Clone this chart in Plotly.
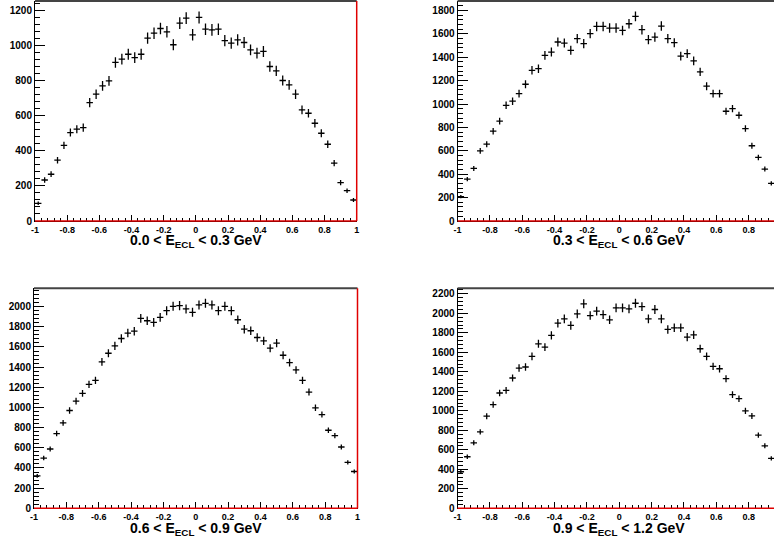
import numpy as np
import plotly.graph_objects as go

# Histogram binning: 50 bins over [-1, 1]
bin_lo, bin_hi, n_bins = -1.0, 1.0, 50
bin_width = (bin_hi - bin_lo) / n_bins
bin_centers = bin_lo + bin_width * (np.arange(n_bins) + 0.5)

# Entries per bin in each calorimeter-energy slice
counts_00_03 = [101, 234, 267, 347, 432, 505, 524, 533, 676, 724,
                771, 800, 905, 924, 952, 933, 952, 1044, 1072, 1099,
                1080, 1006, 1130, 1158, 1063, 1162, 1095, 1091, 1095, 1030,
                1015, 1034, 1019, 977, 958, 968, 882, 857, 802, 777,
                724, 634, 615, 558, 501, 438, 330, 219, 173, 120]
counts_03_06 = [208, 358, 449, 600, 657, 768, 853, 989, 1024, 1089,
                1169, 1288, 1302, 1416, 1444, 1530, 1521, 1459, 1558, 1516,
                1601, 1663, 1663, 1649, 1649, 1629, 1686, 1749, 1635, 1550,
                1572, 1666, 1558, 1524, 1410, 1430, 1368, 1274, 1152, 1089,
                1089, 938, 961, 904, 790, 643, 543, 444, 321, 220]
counts_06_09 = [322, 498, 588, 741, 847, 970, 1063, 1140, 1229, 1269,
                1452, 1538, 1611, 1684, 1738, 1757, 1884, 1860, 1844, 1894,
                1960, 2003, 2010, 1977, 1944, 2017, 2033, 2017, 1960, 2003,
                1960, 1870, 1777, 1761, 1694, 1661, 1588, 1638, 1518, 1445,
                1372, 1269, 1153, 997, 930, 774, 721, 608, 455, 365]
counts_09_12 = [375, 529, 672, 784, 945, 1064, 1183, 1211, 1337, 1439,
                1450, 1559, 1688, 1654, 1774, 1900, 1944, 1876, 1995, 2098,
                1978, 2023, 1988, 1934, 2057, 2057, 2046, 2104, 2070, 1944,
                2040, 1944, 1835, 1852, 1852, 1756, 1780, 1637, 1559, 1456,
                1432, 1330, 1166, 1125, 999, 948, 750, 641, 512, 400]

panel_titles = ["0.0 &lt; E<sub>ECL</sub> &lt; 0.3 GeV",
                "0.3 &lt; E<sub>ECL</sub> &lt; 0.6 GeV",
                "0.6 &lt; E<sub>ECL</sub> &lt; 0.9 GeV",
                "0.9 &lt; E<sub>ECL</sub> &lt; 1.2 GeV"]

x_tick_vals = [-1, -0.8, -0.6, -0.4, -0.2, 0, 0.2, 0.4, 0.6, 0.8, 1]
x_tick_text = ["-1", "-0.8", "-0.6", "-0.4", "-0.2", "0", "0.2", "0.4", "0.6", "0.8", "1"]

W, H = 774, 541

# Pixel frames of the four pads: (left, right, top, bottom); right-hand pads run past the canvas edge
pads = [
    dict(l=35.0, r=356.7, t=1.0, b=221.0, full=True),
    dict(l=457.6, r=781.0, t=1.0, b=221.0, full=False),
    dict(l=34.0, r=357.5, t=288.3, b=508.3, full=True),
    dict(l=457.6, r=781.0, t=288.3, b=508.3, full=False),
]
# top of the title text, pixels below the pad's bottom edge
title_gap_px = 9.5

all_counts = [counts_00_03, counts_03_06, counts_06_09, counts_09_12]

fig = go.Figure()
shapes, annotations = [], []
tick_font = dict(family="Liberation Sans", size=9, color="black", weight="bold")

for k, (counts, pad) in enumerate(zip(all_counts, pads)):
    n = k + 1
    xa = "x" if n == 1 else f"x{n}"
    ya = "y" if n == 1 else f"y{n}"
    c = np.asarray(counts, dtype=float)
    err = np.sqrt(c)

    fig.add_trace(go.Scatter(
        x=bin_centers, y=c, mode="markers", xaxis=xa, yaxis=ya,
        marker=dict(size=1, color="black"),
        error_x=dict(type="constant", value=bin_width / 2, width=0, thickness=1.3, color="black"),
        error_y=dict(type="data", array=err, width=0, thickness=1.3, color="black"),
        showlegend=False, hoverinfo="skip",
    ))

    # visible x span: the right-hand pads are cut by the canvas edge
    x_right_px = min(pad["r"], W)
    x_max = bin_lo + (bin_hi - bin_lo) * (x_right_px - pad["l"]) / (pad["r"] - pad["l"])
    y_max = 1.05 * (c.max() + np.sqrt(c.max()))

    xkey = "xaxis" if n == 1 else f"xaxis{n}"
    ykey = "yaxis" if n == 1 else f"yaxis{n}"
    fig.update_layout(**{
        xkey: dict(
            domain=[pad["l"] / W, x_right_px / W], anchor=ya, range=[bin_lo, x_max],
            tickmode="array", tickvals=x_tick_vals, ticktext=x_tick_text,
            ticks="inside", ticklen=6, tickwidth=1, tickcolor="black",
            minor=dict(ticks="inside", ticklen=3, dtick=0.04, tick0=-1, tickcolor="black"),
            showline=True, linecolor="black", linewidth=1, automargin=False,
            showgrid=False, zeroline=False, tickfont=tick_font,
        ),
        ykey: dict(
            domain=[1 - pad["b"] / H, 1 - pad["t"] / H], anchor=xa, range=[0, y_max],
            dtick=200, tick0=0, ticks="inside", ticklen=10, tickwidth=1, tickcolor="black",
            minor=dict(ticks="inside", ticklen=5, dtick=40, tickcolor="black"),
            showline=True, linecolor="black", linewidth=1, automargin=False,
            showgrid=False, zeroline=False,
            tickfont=dict(family="Liberation Sans", size=10, color="black", weight="bold"),
        ),
    })

    # pad frame: grey top edge, red baseline, red right edge where the pad ends on canvas
    shapes.append(dict(type="line", xref=f"{xa} domain", yref=f"{ya} domain",
                       x0=0, x1=1, y0=1, y1=1, line=dict(color="#444444", width=2)))
    shapes.append(dict(type="line", xref=f"{xa} domain", yref=f"{ya} domain",
                       x0=0, x1=1, y0=0, y1=0, line=dict(color="#e00000", width=1.5)))
    if pad["full"]:
        shapes.append(dict(type="line", xref=f"{xa} domain", yref=f"{ya} domain",
                           x0=1, x1=1, y0=0, y1=1, line=dict(color="#e00000", width=1.5)))

    annotations.append(dict(
        text=f"<b>{panel_titles[k]}</b>", xref=xa, yref="paper",
        x=0, y=1 - (pad["b"] + title_gap_px) / H, xanchor="center", yanchor="top",
        showarrow=False, font=dict(family="Liberation Sans", size=14, color="black"),
    ))

fig.update_layout(
    width=W, height=H, margin=dict(l=0, r=0, t=0, b=0, autoexpand=False),
    paper_bgcolor="white", plot_bgcolor="white",
    shapes=shapes, annotations=annotations,
)

fig.write_html("out.html")
